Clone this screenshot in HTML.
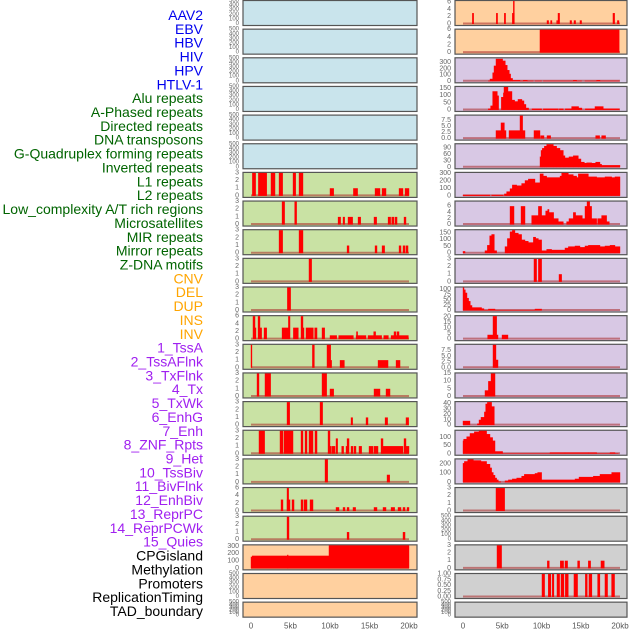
<!DOCTYPE html>
<html><head><meta charset="utf-8"><style>
html,body{margin:0;padding:0;background:#fff;}
svg{display:block;font-family:"Liberation Sans",sans-serif;}
</style></head><body>
<svg id="chart" width="630" height="630" viewBox="0 0 630 630" xmlns="http://www.w3.org/2000/svg">
<g id="labels"></g>
<g id="panels"></g>
<g id="xaxes"></g>
</svg>
<script>
const trackLabels = ["AAV2","EBV","HBV","HIV","HPV","HTLV-1","Alu repeats","A-Phased repeats","Directed repeats","DNA transposons","G-Quadruplex forming repeats","Inverted repeats","L1 repeats","L2 repeats","Low_complexity A/T rich regions","Microsatellites","MIR repeats","Mirror repeats","Z-DNA motifs","CNV","DEL","DUP","INS","INV","1_TssA","2_TssAFlnk","3_TxFlnk","4_Tx","5_TxWk","6_EnhG","7_Enh","8_ZNF_Rpts","9_Het","10_TssBiv","11_BivFlnk","12_EnhBiv","13_ReprPC","14_ReprPCWk","15_Quies","CPGisland","Methylation","Promoters","ReplicationTiming","TAD_boundary"];
const labelGroups = [6,13,5,15,5];
const groupColors = ["#0000ee","#006400","#ffa500","#a020f0","#000000"];
const xTickValues = [0,5,10,15,20];
const xTickLabels = ["0","5kb","10kb","15kb","20kb"];

// bars: [startKb, endKb, value]
const L6 = [[0.17,0.59,3],[0.93,1.99,3],[2.53,3.04,3],[3.55,4.01,3],[5.32,5.66,3],[6.08,6.58,3],[10.0,10.47,1],[12.96,13.5,1],[15.7,16.33,1],[16.59,17.09,1],[18.74,19.24,1],[19.5,20.0,1]];
const L7 = [[3.93,4.26,3],[5.53,5.78,3],[11.02,11.35,1],[11.65,11.86,1],[12.28,12.87,1],[13.55,13.89,1],[15.57,15.91,1],[17.35,17.68,1],[17.81,18.1,1],[18.23,18.49,1],[19.37,19.62,1]];
const L8 = [[3.55,4.01,3],[6.08,6.58,3],[12.16,12.41,1],[15.7,15.95,1],[16.59,16.92,1],[18.74,18.99,1],[19.24,19.5,1],[19.62,19.88,1]];
const L9 = [[7.34,7.68,3]];
const L10 = [[4.6,5.02,3]];
const L11 = [[0.25,0.51,6],[0.51,0.63,3],[0.89,1.14,6],[1.14,1.35,3],[1.65,1.99,3],[3.93,4.73,3],[4.73,4.94,6],[5.36,5.99,3],[6.33,6.58,6],[6.58,6.71,3],[6.96,7.89,3],[8.06,8.36,3],[8.99,9.33,3],[10.0,10.85,1],[11.1,12.96,1],[13.3,14.56,1],[13.35,13.5,2],[14.81,16.54,1],[15.53,15.78,2],[16.8,17.39,1],[17.73,19.92,1],[18.1,18.36,2],[18.49,18.74,2]];
const L12 = [[0,0.12,3],[7.77,8.02,3],[9.62,10.09,3],[10.09,10.21,1],[11.27,11.82,1],[16.08,17.35,1],[18.36,18.87,1]];
const L13 = [[0.76,1.01,3],[1.77,2.49,3],[8.99,9.58,3],[10.0,10.47,1],[15.57,16.33,1],[17.09,17.6,1]];
const L14 = [[4.56,4.9,3],[8.74,9.07,3],[12.66,12.87,1],[14.56,14.81,1],[16.97,17.3,1],[19.62,19.96,1]];
const L15 = [[1.01,1.73,3],[3.67,4.05,3],[4.18,5.32,3],[6.33,6.58,3],[6.84,7.09,3],[7.34,7.85,3],[8.1,8.36,3],[9.75,10.0,3],[10.0,10.17,1],[10.26,10.64,1],[10.76,10.97,2],[11.48,11.73,1],[12.03,12.24,1],[12.16,12.41,2],[12.66,12.91,1],[13.04,13.29,1],[13.67,14.01,1],[14.94,15.45,1],[15.57,16.08,1],[16.46,16.71,2],[16.71,19.24,1],[19.37,19.62,2],[19.62,20.0,1]];
const L16 = [[9.37,9.71,3],[17.22,17.56,1]];
const L17 = [[3.8,4.05,3],[4.56,4.94,3],[4.56,4.77,6],[5.19,5.45,3],[6.33,6.58,3],[6.71,7.09,3],[7.47,7.85,3],[10.76,11.14,1],[11.65,11.9,1],[12.16,12.41,1],[12.91,13.25,1],[15.57,15.95,1],[16.71,17.09,1],[17.73,18.19,1],[18.61,18.99,1],[19.24,19.5,1],[19.75,20.0,1]];
const L18 = [[4.56,4.81,3],[12.16,12.41,1],[19.24,19.5,1]];
const L19 = [[0,0.15,159],[0.15,9.87,173],[4.6,4.7,185],[9.87,20.0,314]];

const R0 = [[1.19,1.36,3],[4.24,4.41,3],[5.26,5.43,3],[6.28,6.54,3],[6.41,6.54,6.3],[10.7,10.91,1],[11.16,11.33,1],[11.93,12.06,1],[12.1,12.31,3],[13.63,13.84,1],[14.14,14.35,1],[14.9,15.11,1],[19.1,19.32,3],[19.66,19.87,1]];
const R1 = [[9.8,19.9,6]];
const R2 = [[3.22,3.44,10],[3.44,3.78,40],[3.78,3.95,140],[3.95,4.2,250],[4.2,5.05,360],[5.05,5.39,330],[5.39,5.64,260],[5.64,5.9,180],[5.9,6.07,120],[6.07,6.32,50],[6.32,7.26,20],[7.26,7.68,10],[7.68,8.19,20],[8.19,8.95,10],[9.17,10.02,10],[10.23,14.05,10],[14.05,14.48,20],[14.48,15.11,10],[15.54,17.02,10],[17.02,17.45,20],[17.45,19.91,10]];
const R3 = [[3.22,3.52,10],[3.52,3.78,30],[3.78,4.37,130],[4.37,4.54,100],[4.88,5.14,90],[5.14,5.22,120],[5.22,5.73,160],[5.73,6.24,130],[6.24,6.58,70],[6.58,7.0,60],[7.0,7.51,75],[7.51,7.77,65],[7.77,8.02,40],[8.02,8.36,15],[8.79,10.02,10],[10.23,12.14,10],[12.27,12.78,10],[13.03,13.84,10],[13.84,14.73,25],[14.73,15.15,15],[15.58,16.81,10],[16.81,17.87,25],[17.87,19.91,10]];
const R4 = [[4.2,4.84,3.4],[4.84,5.27,6.6],[5.27,5.48,3.4],[5.86,7.26,3.4],[7.26,7.6,9.5],[7.6,7.9,3.4],[9.04,9.81,3.4],[9.89,10.32,1.3],[10.7,11.17,1.3],[16.9,17.41,1.3],[17.66,18.17,1.3]];
const R5 = [[9.81,9.94,50],[9.94,10.1,80],[10.1,10.36,90],[10.36,10.66,100],[10.66,11.51,108],[11.51,11.93,100],[11.93,12.36,90],[12.36,12.78,80],[12.78,12.99,55],[12.99,13.5,45],[13.5,14.05,50],[14.05,14.69,55],[14.69,15.03,40],[15.03,15.46,25],[15.46,15.75,20],[15.75,16.39,22],[16.39,16.9,20],[16.9,17.45,25],[17.45,17.66,15],[17.66,20.0,10]];
const R6 = [[0,3.44,15],[3.65,5.14,15],[5.27,5.56,30],[5.56,5.99,60],[5.99,6.28,100],[6.28,6.84,150],[6.84,7.47,140],[7.47,7.9,170],[7.9,8.32,210],[8.32,9.17,230],[9.17,9.81,180],[9.81,10.23,300],[10.23,10.66,270],[10.66,12.36,250],[12.36,12.57,270],[12.57,13.42,310],[13.42,14.05,290],[14.05,14.48,270],[14.48,14.69,250],[14.69,15.97,300],[15.97,17.03,260],[17.03,18.09,250],[18.09,18.94,260],[18.94,19.36,250],[19.36,20.0,260]];
const R7 = [[5.99,6.5,6],[7.39,7.9,6],[8.75,9.6,3],[9.6,10.02,6],[10.02,10.53,3],[10.53,10.79,4.5],[10.79,10.96,5],[10.96,11.55,4],[11.55,12.14,2],[12.14,12.78,1],[13.2,13.5,1],[13.5,14.05,2],[14.05,14.35,4],[14.35,15.2,3],[15.2,15.54,2],[15.54,15.8,6],[15.8,16.14,7.5],[16.14,16.39,6],[16.39,17.03,2],[17.15,17.66,2],[17.66,18.3,3],[18.3,18.64,1]];
const R8 = [[0,0.26,15],[2.8,3.1,20],[3.1,3.4,60],[3.4,3.65,130],[3.65,3.99,140],[3.99,4.29,20],[5.35,5.65,50],[5.65,5.99,110],[5.99,6.28,160],[6.28,6.62,170],[6.62,7.05,150],[7.05,7.47,140],[7.47,7.9,100],[7.9,8.32,90],[8.32,8.96,80],[8.96,9.26,120],[9.26,9.6,110],[9.6,10.02,100],[10.02,10.66,20],[10.66,11.29,30],[11.29,12.99,25],[12.99,13.42,40],[13.42,14.27,50],[14.27,14.9,55],[14.9,15.54,45],[15.54,15.97,55],[15.97,17.45,60],[17.45,18.09,50],[18.09,18.73,55],[18.73,19.36,60],[19.36,20.0,50]];
const R9 = [[9.04,9.38,3],[9.6,10.02,3],[12.23,12.57,1]];
const R10 = [[0,0.13,110],[0.13,0.3,100],[0.3,0.51,85],[0.51,0.72,60],[0.72,0.93,45],[0.93,1.15,25],[1.15,2.37,15],[2.37,2.67,10],[2.67,3.23,3],[3.23,4.08,8],[4.08,9.17,3],[9.17,10.02,8]];
const R11 = [[3.14,3.82,4],[3.82,4.29,21],[4.29,4.46,4],[4.97,5.73,4]];
const R12 = [[3.82,4.2,10],[4.2,4.46,3.5]];
const R13 = [[2.8,3.23,4],[3.23,3.57,10],[3.57,4.08,15]];
const R14 = [[0,0.89,8],[1.83,2.04,3],[2.04,2.29,10],[2.29,2.72,15],[2.72,2.89,25],[2.89,3.1,40],[3.1,3.65,43],[3.65,3.99,35]];
const R15 = [[0,0.08,80],[0.08,0.47,90],[0.47,0.89,105],[0.89,1.44,125],[1.44,2.04,135],[2.04,3.01,140],[3.01,3.44,120],[3.44,3.78,100],[3.78,4.08,80],[4.08,5.05,15],[5.05,11.08,3],[11.08,12.99,8],[12.99,15.97,8],[15.97,17.03,8],[17.03,18.73,3],[18.73,19.36,8],[19.36,19.79,3]];
const R16 = [[0,0.17,210],[0.17,0.6,230],[0.6,1.32,250],[1.32,2.29,240],[2.29,3.01,230],[3.01,3.44,200],[3.44,3.65,160],[3.65,3.86,110],[3.86,4.08,80],[4.08,4.29,50],[4.29,4.5,30],[4.5,4.8,10],[5.35,5.78,20],[5.78,6.28,30],[6.28,6.84,40],[6.84,7.47,50],[7.47,7.81,70],[7.81,9.17,90],[9.17,9.51,100],[9.51,10.02,110],[10.02,14.27,30],[14.27,14.78,40],[14.78,16.6,60],[16.6,17.45,70],[17.45,18.94,90],[18.94,20.0,110]];
const R17 = [[4.2,5.31,3]];
const R19 = [[4.33,4.92,3],[10.74,10.99,1],[12.39,12.82,1],[12.99,13.33,1],[14.6,14.86,1],[15.96,16.26,1],[17.57,18.0,1]];
const R20 = [[10.06,10.4,1],[10.86,11.2,1],[11.37,11.58,1],[11.97,12.31,1],[12.48,12.86,1],[13.03,13.41,1],[14.13,14.6,1],[15.58,15.83,1],[16.04,16.42,1],[17.15,17.44,1],[18.08,18.42,1],[18.93,19.31,1]];

const T500 = ["0","100","200","300","400","500"];
const T3 = ["0","1","2","3"];
const T6 = ["0","2","4","6"];
const BLUE="#c9e4ec", ORANGE="#ffd09f", GREEN="#c9e2a4", PURPLE="#d8c8e4", GREY="#d0d0d0";

const leftTracks = [
 [null,500,T500,BLUE],[null,500,T500,BLUE],[null,500,T500,BLUE],[null,500,T500,BLUE],[null,500,T500,BLUE],[null,500,T500,BLUE],
 [L6,3,T3,GREEN],[L7,3,T3,GREEN],[L8,3,T3,GREEN],[L9,3,T3,GREEN],[L10,3,T3,GREEN],[L11,6,T6,GREEN],[L12,3,T3,GREEN],
 [L13,3,T3,GREEN],[L14,3,T3,GREEN],[L15,3,T3,GREEN],[L16,3,T3,GREEN],[L17,6,T6,GREEN],[L18,3,T3,GREEN],
 [L19,314,["0","100","200","300"],ORANGE],[null,500,T500,ORANGE],[null,500,T500,ORANGE]];
const rightTracks = [
 [R0,6.3,T6,ORANGE],[R1,6,T6,ORANGE],
 [R2,368,["0","100","200","300"],PURPLE],[R3,160,["0","50","100","150"],PURPLE],
 [R4,9.5,["0.0","2.5","5.0","7.5"],PURPLE],[R5,108,["0","30","60","90"],PURPLE],
 [R6,310,["0","100","200","300"],PURPLE],[R7,7.5,T6,PURPLE],[R8,170,["0","50","100","150"],PURPLE],
 [R9,3,T3,PURPLE],[R10,110,["0","25","50","75","100"],PURPLE],[R11,21,["0","5","10","15","20"],PURPLE],
 [R12,10,["0.0","2.5","5.0","7.5"],PURPLE],[R13,15,["0","5","10","15"],PURPLE],[R14,43,["0","10","20","30","40"],PURPLE],
 [R15,140,["0","50","100"],PURPLE],[R16,250,["0","100","200"],PURPLE],
 [R17,3,T3,GREY],[null,500,T500,GREY],[R19,3,T3,GREY],[R20,1,["0.00","0.25","0.50","0.75","1.00"],GREY],[null,500,T500,GREY]];

const NS="http://www.w3.org/2000/svg";
function mk(tag, attrs, parent){const e=document.createElementNS(NS,tag);for(const k in attrs)e.setAttribute(k,attrs[k]);parent.appendChild(e);return e;}

const lg=document.getElementById('labels');
let gi=0,cnt=0;
trackLabels.forEach((t,i)=>{
  if(cnt>=labelGroups[gi]){gi++;cnt=0;}
  cnt++;
  const e=mk('text',{x:203,y:15+i*13.86,'text-anchor':'end','dominant-baseline':'central','font-size':14,fill:groupColors[gi]},lg);
  
  
  e.textContent=t;
});

const pg=document.getElementById('panels');
function drawColumn(tracks, px0, px1, x0, x1, tickX, side){
  const xs=k=>x0+(k/20)*(x1-x0);
  tracks.forEach((tr,i)=>{
    const top=0.5+i*28.65, h=(i===21)?15:25, bot=top+h;
    const [bars,ymax,ticks,bg]=tr;
    const ys=v=>bot-1.5-(v/ymax)*(h-2);
    const g=mk('g',{},pg);
    
    
    mk('rect',{x:px0,y:top,width:px1-px0,height:h,fill:bg,stroke:'#555','stroke-width':1.2},g);
    const isEmpty=!bars;
    const tickVals=ticks.map(Number);
    ticks.forEach((tl,j)=>{
      const v=tickVals[j];
      const yy=isEmpty?(bot-1.5-(v/500)*(h-2)):ys(v);
      const t=mk('text',{x:tickX,y:yy,'text-anchor':'end','dominant-baseline':'central','font-size':isEmpty?6:7,fill:'#666'},g);
      
      
      t.textContent=tl;
    });
    if(bars){
      const bl=mk('line',{x1:xs(0),x2:xs(20),y1:ys(0)-0.5,y2:ys(0)-0.5,stroke:'rgba(170,40,40,0.55)','stroke-width':2},g);
      
      
      bars.forEach(b=>{
        const xa=xs(b[0]),xb=xs(b[1]),yt=ys(b[2]);
        const r=mk('rect',{x:xa-0.2,y:yt,width:Math.max(0.8,xb-xa)+0.4,height:ys(0)-yt,fill:'#ff0000'},g);
        
        
      });
    }
  });
  const ax=document.getElementById('xaxes');
  xTickValues.forEach((v,j)=>{
    const t=mk('text',{x:xs(v),y:626,'text-anchor':'middle','dominant-baseline':'central','font-size':8,fill:'#555'},ax);
    
    
    t.textContent=xTickLabels[j];
  });
}
drawColumn(leftTracks,243,417,251,409,239,'left');
drawColumn(rightTracks,455,627,463,620,451,'right');
</script>
</body></html>
